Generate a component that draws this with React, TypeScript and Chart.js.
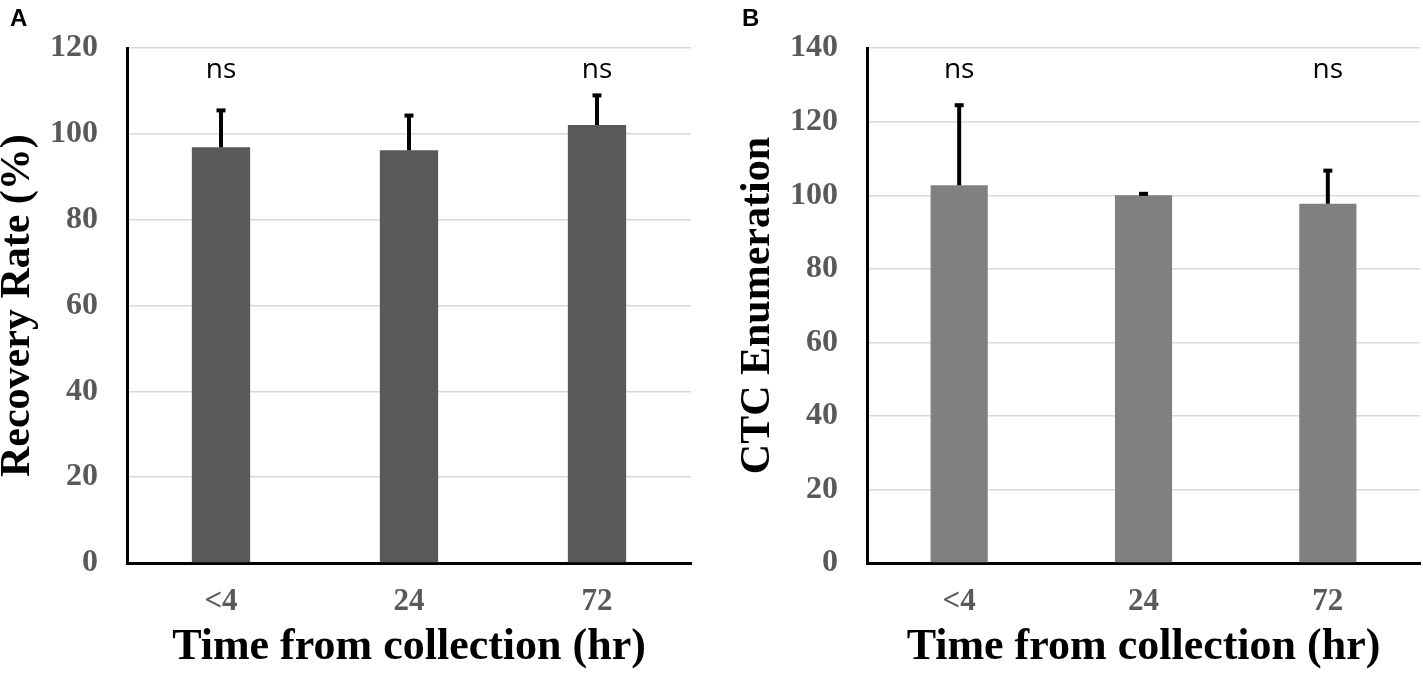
import { useEffect, useRef } from 'react'
import { Chart, BarController, BarElement, LinearScale, CategoryScale } from 'chart.js'
import type { Plugin } from 'chart.js'

Chart.register(BarController, BarElement, LinearScale, CategoryScale)
Chart.defaults.font.family = '"Liberation Serif", "Times New Roman", serif'

// values (bar height and upper error)
const timePoints = ['<4', '24', '72']
const recoveryRate = [96.9, 96.2, 102.1]
const recoveryRateErr = [8.6, 8.1, 6.9]
const ctcEnumeration = [102.7, 100.0, 97.7]
const ctcEnumerationErr = [21.8, 0.4, 9.0]
const significance = ['ns', '', 'ns']
const recoveryMax = 120
const ctcMax = 140
const tickStep = 20

// upward-only error bars, "ns" marks and the panel letter
const annotations: Plugin<'bar'> = {
  id: 'annotations',
  afterDatasetsDraw(chart, _args, opts: any) {
    const { ctx, chartArea } = chart
    const xs = chart.scales.x
    const ys = chart.scales.y
    const values = chart.data.datasets[0].data as number[]
    ctx.save()
    ctx.strokeStyle = '#000'
    ctx.lineWidth = 4
    values.forEach((v, i) => {
      const px = xs.getPixelForValue(i)
      const base = ys.getPixelForValue(v)
      const top = ys.getPixelForValue(v + opts.errors[i])
      ctx.beginPath()
      ctx.moveTo(px, base)
      ctx.lineTo(px, top)
      ctx.stroke()
      ctx.beginPath()
      ctx.moveTo(px - 4.5, top)
      ctx.lineTo(px + 4.5, top)
      ctx.stroke()
    })
    ctx.fillStyle = '#000'
    ctx.font = '28px "Open Sans"'
    ctx.textAlign = 'center'
    ctx.textBaseline = 'middle'
    opts.labels.forEach((t: string, i: number) => {
      if (t) ctx.fillText(t, xs.getPixelForValue(i), chartArea.top + 22)
    })
    ctx.font = 'bold 24px "Liberation Sans"'
    ctx.textAlign = 'left'
    ctx.textBaseline = 'top'
    ctx.fillText(opts.letter, opts.letterX, 7)
    ctx.restore()
  },
}

type PanelProps = {
  left: number
  width: number
  letter: string
  letterX: number
  yTitle: string
  yTitleLineHeight: number
  yTitlePad: number
  yAxisWidth: number
  rightPad: number
  yMax: number
  values: number[]
  errors: number[]
  color: string
}

function Panel(p: PanelProps) {
  const ref = useRef<HTMLCanvasElement>(null)

  useEffect(() => {
    if (!ref.current) return
    const chart = new Chart(ref.current, {
      type: 'bar',
      data: {
        labels: timePoints,
        datasets: [
          {
            data: p.values,
            backgroundColor: p.color,
            barPercentage: 0.31,
            categoryPercentage: 1,
          },
        ],
      },
      options: {
        responsive: true,
        maintainAspectRatio: false,
        animation: false,
        events: [],
        layout: { padding: { top: 47, right: p.rightPad, bottom: 0, left: 0 } },
        plugins: {
          legend: { display: false },
          tooltip: { enabled: false },
          annotations: { errors: p.errors, labels: significance, letter: p.letter, letterX: p.letterX },
        } as any,
        scales: {
          x: {
            grid: { display: false, drawTicks: false },
            border: { display: true, color: '#000', width: 3 },
            ticks: { color: '#595959', padding: 20, font: { size: 31, weight: 'bold' } },
            title: {
              display: true,
              text: 'Time from collection (hr)',
              color: '#000',
              padding: 0,
              font: { size: 44, weight: 'bold', lineHeight: 1.2 },
            },
            afterFit: (s) => {
              s.height = 111
            },
          },
          y: {
            min: 0,
            max: p.yMax,
            grid: { color: '#d9d9d9', lineWidth: 1.5, drawTicks: false },
            border: { display: true, color: '#000', width: 3 },
            ticks: { stepSize: tickStep, color: '#595959', padding: 29, font: { size: 32, weight: 'bold' } },
            title: {
              display: true,
              text: p.yTitle,
              color: '#000',
              padding: { top: p.yTitlePad, bottom: 0 },
              font: { size: 42, weight: 'bold', lineHeight: p.yTitleLineHeight },
            },
            afterFit: (s) => {
              s.width = p.yAxisWidth
            },
          },
        },
      },
      plugins: [annotations],
    })
    return () => chart.destroy()
  }, [])

  return (
    <div style={{ position: 'absolute', left: p.left, top: 0, width: p.width, height: 674 }}>
      <canvas ref={ref} />
    </div>
  )
}

export default function App() {
  return (
    <div style={{ position: 'absolute', left: 0, top: 0, width: 1423, height: 674, background: '#fff' }}>
      <Panel
        left={0}
        width={705}
        letter="A"
        letterX={10}
        yTitle="Recovery Rate (%)"
        yTitleLineHeight={0.85}
        yTitlePad={0}
        yAxisWidth={127}
        rightPad={14}
        yMax={recoveryMax}
        values={recoveryRate}
        errors={recoveryRateErr}
        color="#595959"
      />
      <Panel
        left={712}
        width={711}
        letter="B"
        letterX={30}
        yTitle="CTC Enumeration"
        yTitleLineHeight={1}
        yTitlePad={25}
        yAxisWidth={155}
        rightPad={3}
        yMax={ctcMax}
        values={ctcEnumeration}
        errors={ctcEnumerationErr}
        color="#808080"
      />
    </div>
  )
}
